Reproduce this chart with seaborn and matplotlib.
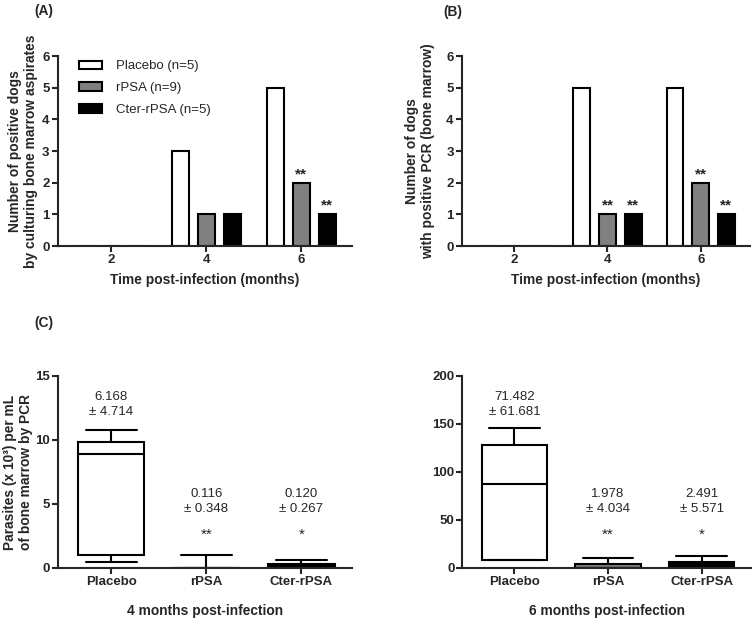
import pandas as pd
import seaborn as sns
import matplotlib.pyplot as plt

# bar panels (A) and (B)
months = ["2", "4", "6"]
groups = ["Placebo", "rPSA", "Cter-rPSA"]
legend_labels = ["Placebo (n=5)", "rPSA (n=9)", "Cter-rPSA (n=5)"]
culture_placebo = [0, 3, 5]
culture_rpsa = [0, 1, 2]
culture_cter = [0, 1, 1]
pcr_placebo = [0, 5, 5]
pcr_rpsa = [0, 1, 2]
pcr_cter = [0, 1, 1]
# significance marks per (group, month)
culture_stars = {("rPSA", "6"): "**", ("Cter-rPSA", "6"): "**"}
pcr_stars = {("rPSA", "4"): "**", ("Cter-rPSA", "4"): "**",
             ("rPSA", "6"): "**", ("Cter-rPSA", "6"): "**"}

# box panels (C): min, q1, median, q3, max per group
box4_placebo = [0.49, 1.04, 8.92, 9.83, 10.74]
box4_rpsa = [0, 0, 0, 0, 1.01]
box4_cter = [0, 0, 0, 0.3, 0.6]
box6_placebo = [8.0, 8.5, 87.0, 127.7, 146.0]
box6_rpsa = [0, 0, 0, 3.8, 10.4]
box6_cter = [0, 0, 0, 6.6, 12.2]
mean4 = ["6.168\n± 4.714", "0.116\n± 0.348", "0.120\n± 0.267"]
mean6 = ["71.482\n± 61.681", "1.978\n± 4.034", "2.491\n± 5.571"]
box_stars = ["", "**", "*"]

colors = {"Placebo": "white", "rPSA": "#808080", "Cter-rPSA": "black"}

sns.set_style("ticks")
plt.rcParams['font.family'] = ['Liberation Sans', 'DejaVu Sans']
plt.rcParams['axes.linewidth'] = 1.5
plt.rcParams['xtick.major.width'] = 1.5
plt.rcParams['ytick.major.width'] = 1.5
plt.rcParams['xtick.major.size'] = 4
plt.rcParams['ytick.major.size'] = 4

FS = 8.5      # small text
TICK = 9.5    # tick labels
LAB = 9.9     # axis labels
STAR = 11

fig = plt.figure(figsize=(7.55, 6.2), dpi=100)
axA = fig.add_axes([0.0768, 0.603, 0.389, 0.3065])
axB = fig.add_axes([0.612, 0.603, 0.3815, 0.3065])
axC1 = fig.add_axes([0.0768, 0.0839, 0.389, 0.3097])
axC2 = fig.add_axes([0.612, 0.0839, 0.383, 0.3097])


def bar_panel(ax, pla, rp, ct, stars, ylabel, legend, ylab_x):
    df = pd.DataFrame({
        "month": months * 3,
        "group": [g for g in groups for _ in months],
        "count": pla + rp + ct,
    })
    sns.barplot(data=df, x="month", y="count", hue="group", order=months,
                hue_order=groups, palette=colors, width=0.825, gap=0.345,
                edgecolor="black", linewidth=1.5, ax=ax, legend=legend)
    for gi, g in enumerate(groups):
        for mi, m in enumerate(months):
            if (g, m) in stars:
                p = ax.containers[gi][mi]
                ax.text(p.get_x() + p.get_width() / 2, p.get_height() + 0.05,
                        stars[(g, m)], ha="center", va="bottom", fontsize=STAR,
                        fontweight="bold")
    ax.set_ylim(0, 6)
    ax.set_xlim(-0.56, 2.53)
    ax.set_yticks(range(7))
    ax.set_xlabel("Time post-infection (months)", fontsize=LAB,
                  fontweight="bold", labelpad=5)
    ax.set_ylabel(ylabel, fontsize=LAB, fontweight="bold", linespacing=1.15)
    ax.yaxis.set_label_coords(ylab_x, 0.5)
    ax.tick_params(labelsize=TICK, pad=2)
    for lab in ax.get_xticklabels() + ax.get_yticklabels():
        lab.set_fontweight("bold")
    sns.despine(ax=ax)
    if legend:
        h, _ = ax.get_legend_handles_labels()
        ax.legend(h, legend_labels, loc="upper left",
                  bbox_to_anchor=(0.03, 1.04), frameon=False, fontsize=FS + 1,
                  handlelength=1.8, handleheight=0.6, labelspacing=0.75,
                  handletextpad=1.0)


bar_panel(axA, culture_placebo, culture_rpsa, culture_cter, culture_stars,
          "Number of positive dogs\nby culturing bone marrow aspirates", True,
          -0.068)
bar_panel(axB, pcr_placebo, pcr_rpsa, pcr_cter, pcr_stars,
          "Number of dogs\nwith positive PCR (bone marrow)", False, -0.094)


def box_panel(ax, pla, rp, ct, labels, top, step, xlabel, ylabel):
    df = pd.DataFrame({
        "group": [g for g in groups for _ in range(5)],
        "value": pla + rp + ct,
    })
    sns.boxplot(data=df, x="group", y="value", hue="group", order=groups,
                palette=colors, whis=(0, 100), width=0.7, linecolor="black",
                linewidth=1.5, legend=False, ax=ax, capwidths=0.54)
    ax.set_ylim(0, top)
    ax.set_yticks(range(0, top + 1, step))
    ax.set_xlim(-0.56, 2.53)
    for i, (txt, st) in enumerate(zip(labels, box_stars)):
        y0 = 0.853 if i == 0 else 0.345
        ax.text(i, y0 * top, txt, ha="center", va="center", fontsize=FS + 1,
                linespacing=1.35)
        if st:
            ax.text(i, 0.175 * top, st, ha="center", va="center",
                    fontsize=STAR)
    ax.set_xlabel(xlabel, fontsize=LAB, fontweight="bold", labelpad=12)
    ax.set_ylabel(ylabel, fontsize=LAB, fontweight="bold", linespacing=1.15)
    ax.yaxis.set_label_coords(-0.085, 0.5)
    ax.tick_params(labelsize=TICK, pad=1.5)
    for lab in ax.get_xticklabels() + ax.get_yticklabels():
        lab.set_fontweight("bold")
    sns.despine(ax=ax)


box_panel(axC1, box4_placebo, box4_rpsa, box4_cter, mean4, 15, 5,
          "4 months post-infection",
          "Parasites (x 10³) per mL\nof bone marrow by PCR")
box_panel(axC2, box6_placebo, box6_rpsa, box6_cter, mean6, 200, 50,
          "6 months post-infection", "")

fig.text(0.045, 0.983, "(A)", fontsize=LAB, fontweight="bold", va="center")
fig.text(0.587, 0.98, "(B)", fontsize=LAB, fontweight="bold", va="center")
fig.text(0.045, 0.479, "(C)", fontsize=LAB, fontweight="bold", va="center")

plt.savefig("out.png", dpi=100)
